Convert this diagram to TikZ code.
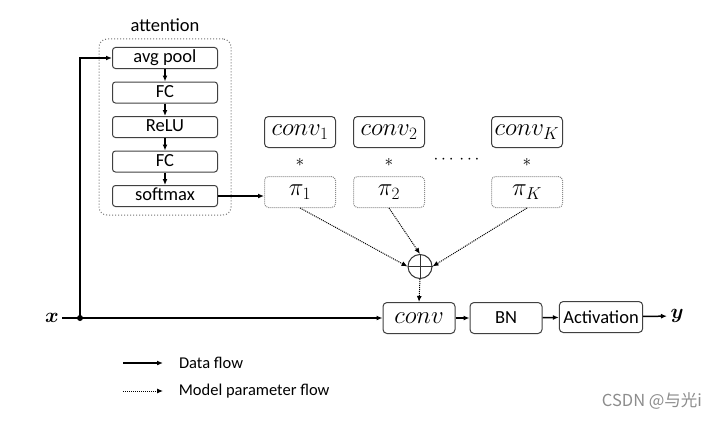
\documentclass[tikz,border=0pt]{standalone}
\usepackage{amsmath,bm}
\usepackage{fontspec}
\setmainfont{Carlito}
\newfontfamily\cjkfont{Noto Sans CJK SC}
\usetikzlibrary{arrows.meta,positioning,fit}

\begin{document}
\begin{tikzpicture}[x=1pt,y=1pt,>={Latex[length=6pt,width=5pt]},font=\fontsize{18.5}{20}\selectfont,
  block/.style={draw=black!75,line width=1pt,rounded corners=3pt,minimum width=105pt,minimum height=21pt,inner sep=0pt,text height=12.5pt,text depth=3.5pt},
  kern/.style={draw=black!75,line width=1pt,rounded corners=4pt,minimum width=71pt,minimum height=31pt,inner sep=1pt,font=\fontsize{23}{24}\selectfont},
  weight/.style={kern,draw=black!45,densely dotted},
  stage/.style={draw=black!75,line width=1pt,rounded corners=4pt,minimum width=72pt,minimum height=31pt,inner xsep=4pt,inner ysep=1pt},
  line/.style={->,line width=1.5pt},
  param/.style={->,line width=1pt,densely dotted}]
\useasboundingbox (0,0) rectangle (727,-420);
% attention branch
\node[block] (pool) at (165,-58) {avg pool};
\node[block,below=12.5pt of pool] (fc1) {FC};
\node[block,below=12.5pt of fc1] (relu) {ReLU};
\node[block,below=12.5pt of relu] (fc2) {FC};
\node[block,below=12.5pt of fc2] (soft) {softmax};
\node[draw=black!55,line width=1pt,dotted,rounded corners=8pt,fit=(pool)(soft),inner xsep=13pt,inner ysep=8pt] (att) {};
\node[above=3pt of att] {attention};
\draw[line] (pool) -- (fc1);
\draw[line] (fc1) -- (relu);
\draw[line] (relu) -- (fc2);
\draw[line] (fc2) -- (soft);
% kernels and weights
\node[kern] (k1) at (300,-132) {$conv_1$};
\node[kern] (k2) at (389,-132) {$conv_2$};
\node[kern] (kK) at (527,-132) {$conv_K$};
\node[weight] (p1) at (300,-192) {$\pi_1$};
\node[weight] (p2) at (389,-192) {$\pi_2$};
\node[weight] (pK) at (527,-192) {$\pi_K$};
\node at (300,-162) {$\ast$};
\node at (389,-162) {$\ast$};
\node at (527,-162) {$\ast$};
\node at (458,-160) {$\cdots\,\cdots$};
\draw[line] (soft.east) -- (soft.east -| p1.west);
% aggregation
\node[circle,draw=black!80,line width=1pt,minimum size=24pt,inner sep=0pt] (sum) at (420,-266.5) {};
\draw[line width=1pt,black!80] (sum.north) -- (sum.south) (sum.west) -- (sum.east);
\draw[param] (p1.south) -- (sum.west);
\draw[param] (p2.south) -- (sum.north);
\draw[param] (pK.south) -- (sum.east);
% main path
\node[font=\fontsize{22}{24}\selectfont] (x) at (52,-318) {$\bm{x}$};
\coordinate (split) at (80,-318);
\node[stage,font=\fontsize{23}{24}\selectfont] (conv) at (419,-318) {$conv$};
\node[stage] (bn) at (506,-318) {BN};
\node[stage] (act) at (601,-317) {Activation};
\node[font=\fontsize{22}{24}\selectfont] (y) at (677,-316) {$\bm{y}$};
\draw[param] (sum.south) -- (conv.north);
\draw[line width=1.5pt] (x.east) -- (split);
\fill (split) circle (3pt);
\draw[line] (split) |- (pool.west);
\draw[line] (split) -- (conv.west);
\draw[line] (conv) -- (bn);
\draw[line] (bn) -- (act);
\draw[line] (act) -- (y);
% legend
\coordinate (l1) at (123,-363);
\coordinate (l2) at (123,-391);
\draw[line] (l1) -- ++(40,0) node[right=12pt,font=\fontsize{16.5}{18}\selectfont] {Data flow};
\draw[param] (l2) -- ++(40,0) node[right=12pt,font=\fontsize{16.5}{18}\selectfont] {Model parameter flow};
\node[text=black!45,font=\cjkfont\fontsize{16.5}{19}\selectfont] (mark) at (652,-401) {CSDN @与光i};
\end{tikzpicture}
\end{document}
